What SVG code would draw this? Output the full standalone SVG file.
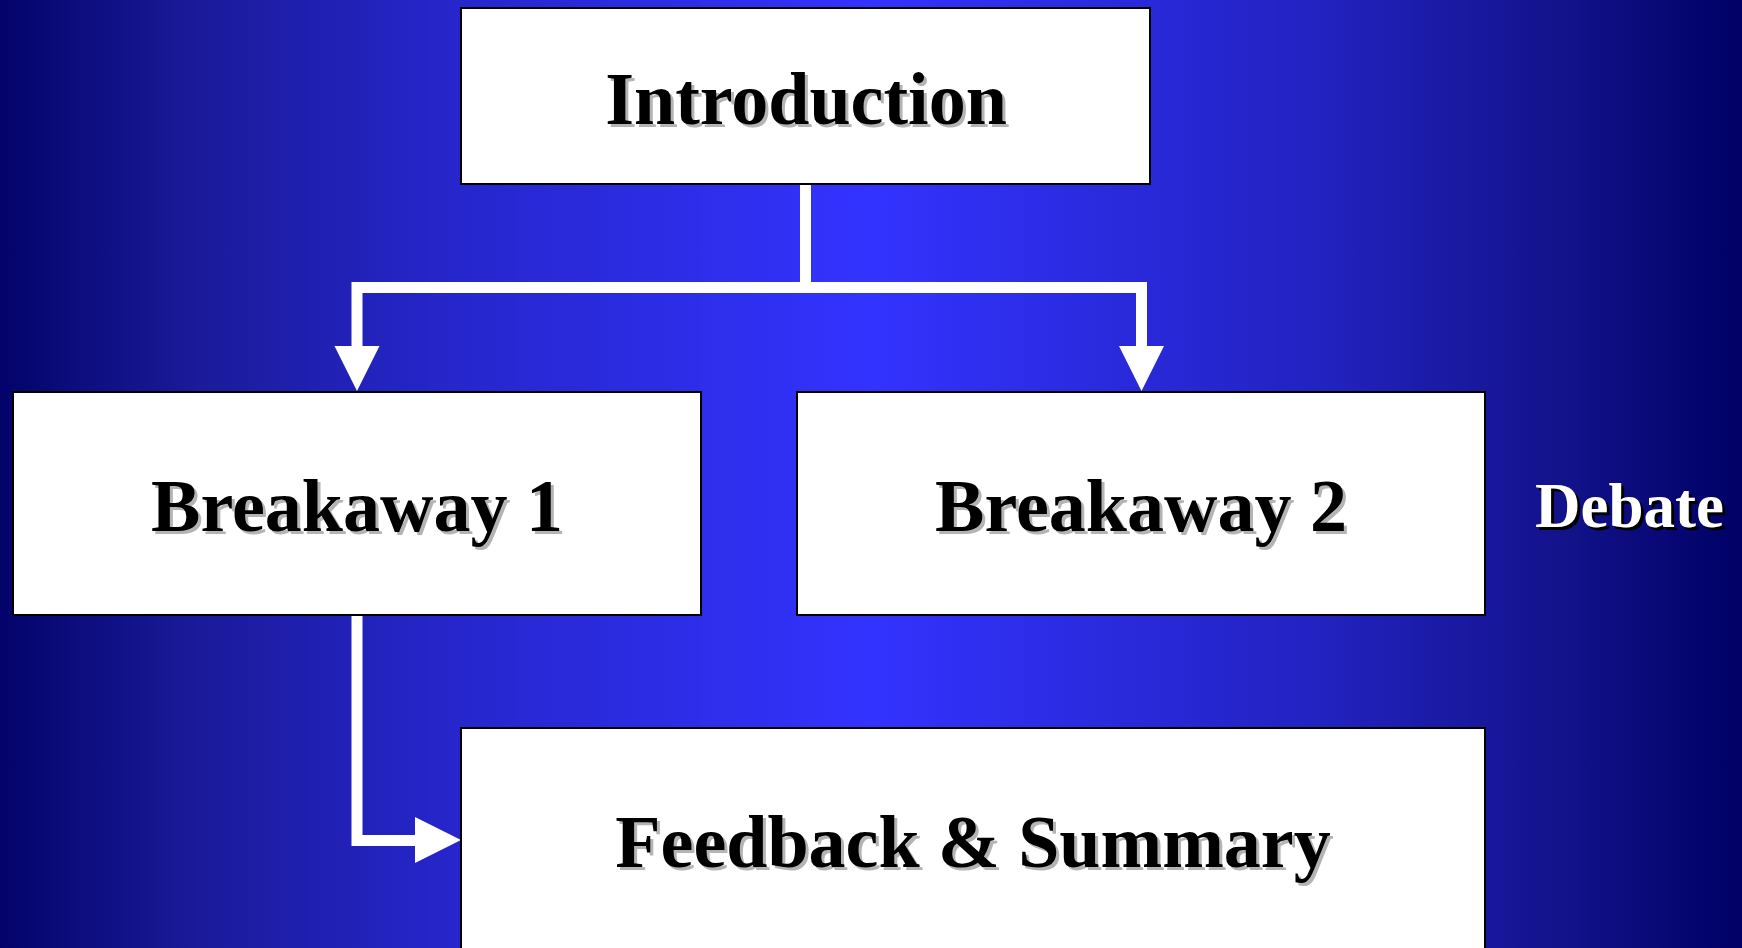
<svg xmlns="http://www.w3.org/2000/svg" width="1742" height="948" viewBox="0 0 1742 948">
<defs>
<linearGradient id="bg" x1="0" y1="0" x2="1" y2="0">
<stop offset="0" stop-color="#03036a"/>
<stop offset="0.11" stop-color="#1a1a99"/>
<stop offset="0.26" stop-color="#2626cc"/>
<stop offset="0.5" stop-color="#3333ff"/>
<stop offset="0.76" stop-color="#2222c0"/>
<stop offset="0.9" stop-color="#12128a"/>
<stop offset="1" stop-color="#000066"/>
</linearGradient>
<style>
.box{fill:#ffffff;stroke:#000000;stroke-width:2}
.lbl{font-family:"Liberation Serif","Times New Roman",serif;font-weight:bold;font-size:74px;text-anchor:middle;fill:#000000}
.sh{fill:#b4b4b4}
.wl{font-family:"Liberation Serif","Times New Roman",serif;font-weight:bold;font-size:63px;fill:#ffffff}
.wsh{fill:#000000}
.con{fill:none;stroke:#ffffff;stroke-width:11}
.head{fill:#ffffff}
</style>
</defs>
<rect x="0" y="0" width="1742" height="948" fill="url(#bg)"/>
<g id="connectors">
<path class="con" d="M805.5,184 V287.5 M357,287.5 H1141.5 M357,282 V350 M1141.5,282 V350"/>
<polygon class="head" points="334.5,346 379.5,346 357,391"/>
<polygon class="head" points="1119,346 1164,346 1141.5,391"/>
<path class="con" d="M357,615 V840.5 H420"/>
<polygon class="head" points="415,817 415,863 461,840"/>
</g>
<g id="introduction">
<rect class="box" x="461" y="8" width="689" height="176"/>
<text class="lbl sh" x="809" y="127">Introduction</text>
<text class="lbl" x="806" y="124">Introduction</text>
</g>
<g id="breakaway1">
<rect class="box" x="13" y="392" width="688" height="223"/>
<text class="lbl sh" x="360" y="534">Breakaway 1</text>
<text class="lbl" x="357" y="531">Breakaway 1</text>
</g>
<g id="breakaway2">
<rect class="box" x="797" y="392" width="688" height="223"/>
<text class="lbl sh" x="1144" y="534">Breakaway 2</text>
<text class="lbl" x="1141" y="531">Breakaway 2</text>
</g>
<g id="debate">
<text class="wl wsh" x="1538" y="530">Debate</text>
<text class="wl" x="1535" y="527">Debate</text>
</g>
<g id="feedback">
<rect class="box" x="461" y="728" width="1024" height="240"/>
<text class="lbl sh" x="976" y="870">Feedback &amp; Summary</text>
<text class="lbl" x="973" y="867">Feedback &amp; Summary</text>
</g>
</svg>
